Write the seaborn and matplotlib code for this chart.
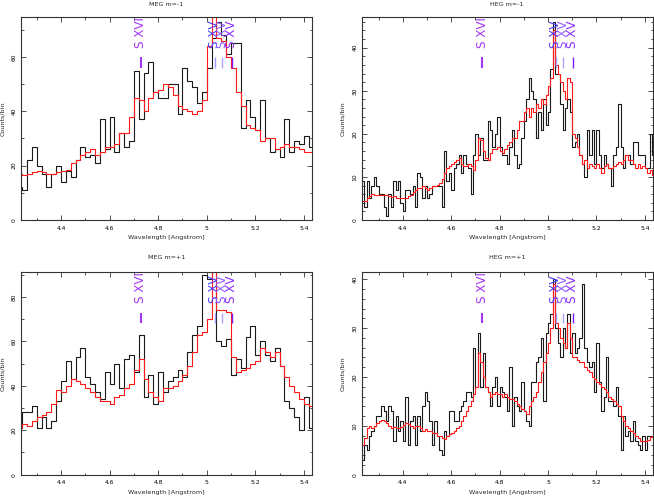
import numpy as np
import pandas as pd
import matplotlib
matplotlib.use("Agg")
import matplotlib.pyplot as plt
from matplotlib.ticker import MultipleLocator, FuncFormatter
import seaborn as sns

# ---------------- data (counts per bin) ----------------
meg_start, meg_step = 4.22, 0.02      # MEG bins: 0.02 A
heg_start, heg_step = 4.23, 0.01      # HEG bins: 0.01 A

meg_m1_data = [12, 11, 22, 27, 20, 17, 12, 17, 20, 14,
               18, 16, 22, 27, 23, 24, 21, 37, 26, 38,
               25, 32, 27, 29, 55, 37, 54, 58, 47, 45,
               45, 50, 50, 39, 56, 51, 49, 43, 47, 56,
               67, 73, 68, 61, 65, 65, 34, 44, 38, 33,
               44, 30, 25, 26, 23, 37, 25, 29, 28, 31,
               27]
meg_m1_model = [17, 16.5, 17, 17.5, 18, 17.5, 17, 17, 17.5, 18,
                18.5, 21, 22, 24, 25, 26, 24, 25, 27, 27,
                28, 32, 32, 38, 45, 44, 40, 45, 47, 48,
                50, 49, 46, 42, 41, 40, 39, 40, 44, 64,
                80, 67, 66, 60, 56, 47, 42, 35, 34, 33,
                29, 30, 30, 26, 27, 28, 27, 27, 26, 25,
                25]

meg_p1_data = [21, 28, 28, 31, 21, 26, 21, 24, 33, 42,
               51, 43, 53, 57, 44, 41, 37, 34, 46, 41,
               50, 39, 52, 54, 46, 63, 35, 45, 32, 46,
               37, 42, 44, 47, 44, 55, 63, 67, 90, 88,
               95, 60, 58, 61, 45, 52, 48, 62, 67, 54,
               60, 54, 51, 57, 49, 33, 30, 26, 20, 35,
               21]
meg_p1_model = [21, 23, 22, 24, 26, 27, 28, 32, 38, 37,
                40, 43, 42, 41, 39, 37, 35, 33, 33, 32,
                35, 36, 39, 41, 47, 52, 43, 37, 35, 33,
                39, 39, 40, 42, 45, 49, 55, 63, 64, 70,
                100, 74, 74, 73, 53, 46, 47, 48, 50, 51,
                57, 55, 53, 55, 49, 44, 40, 37, 34, 32,
                31]

heg_m1_data = [9, 3, 9, 5, 8, 10, 8, 6, 6, 3,
               1, 6, 3, 9, 7, 9, 4, 2, 7, 7,
               6, 8, 3, 11, 10, 5, 8, 5, 6, 8,
               8, 8, 8, 3, 16, 9, 11, 7, 12, 13,
               15, 11, 15, 13, 12, 6, 15, 20, 15, 19,
               14, 14, 23, 21, 17, 20, 24, 17, 15, 15,
               13, 17, 21, 15, 12, 13, 19, 23, 28, 33,
               30, 28, 19, 25, 21, 28, 22, 25, 35, 46,
               34, 34, 27, 21, 26, 28, 25, 17, 18, 20,
               15, 13, 10, 21, 15, 21, 13, 21, 15, 12,
               15, 13, 12, 8, 15, 17, 27, 17, 12, 15,
               15, 13, 18, 18, 15, 15, 15, 12, 12, 20,
               15]
heg_m1_model = [4.5, 4.5, 5, 5.5, 6, 5.8, 5.8, 5.7, 5.8, 5.8,
                5.8, 5.5, 5.3, 5.5, 5.2, 5, 5, 5, 5.2, 5.5,
                5.8, 6.5, 7, 7.5, 7.5, 7.8, 7.5, 7, 7.5, 8,
                8, 8.2, 8.5, 9.5, 11, 12, 12.5, 13, 13.5, 14,
                14.5, 13, 12.5, 12.5, 13, 12.5, 11.5, 14, 19, 18.5,
                16, 14.5, 14, 15.5, 16.5, 16.5, 17, 16, 15.5, 16.5,
                17.5, 18, 19, 19, 21, 23, 23, 25, 26, 24,
                26, 25, 27, 26, 28, 27, 29, 31, 33, 44,
                36, 34, 32, 30, 28, 33, 32, 20, 19, 17,
                15, 13, 14, 12, 13, 12.5, 12, 13, 12, 11,
                12.5, 13, 12, 12, 12.5, 13, 13.5, 13, 14, 15,
                14, 14, 13, 12, 13, 12, 12.5, 12, 11, 11.5,
                10.5]

heg_p1_data = [3, 6, 5, 8, 9, 10, 12, 12, 14, 13,
               11, 14, 13, 7, 12, 9, 11, 7, 16, 6,
               11, 12, 6, 12, 9, 14, 17, 15, 11, 6,
               11, 8, 5, 4, 9, 8, 13, 13, 11, 11,
               13, 14, 15, 17, 17, 16, 26, 18, 29, 18,
               25, 18, 17, 14, 18, 20, 14, 18, 17, 16,
               13, 22, 10, 16, 14, 13, 19, 13, 11, 10,
               19, 19, 23, 24, 28, 15, 29, 31, 33, 40,
               30, 27, 24, 30, 26, 33, 25, 29, 25, 26,
               28, 39, 26, 23, 22, 23, 17, 27, 19, 13,
               16, 24, 15, 15, 14, 18, 12, 5, 12, 8,
               9, 7, 11, 7, 6, 5, 8, 5, 8, 8,
               8]
heg_p1_model = [6, 7.5, 9.5, 10, 9.5, 10, 10.5, 11, 11.2, 11,
                10.5, 10, 9.5, 9.8, 9.5, 9.5, 9.8, 10.2, 10.5, 10.3,
                10, 9.5, 10, 10, 9.5, 9, 9.3, 9, 9, 8.5,
                8.5, 8, 8, 7.5, 7.3, 8, 8.3, 8.5, 9, 9.5,
                10, 11, 12, 13, 14, 15, 16.5, 18, 25, 23,
                20, 18, 17, 16, 16.5, 17, 16.5, 16.5, 16, 16.5,
                16, 15.5, 15.5, 15, 14.5, 14, 13.5, 13, 12.5, 14,
                15, 16, 17, 19, 21, 23, 25, 27, 30, 39,
                31, 30, 28, 27, 26, 31, 28, 24, 24, 23.5,
                23, 23, 22, 21.5, 21, 20, 19.5, 19, 18.5, 18,
                17.5, 17, 16, 15.5, 15, 14.5, 14, 12, 11, 10,
                9.5, 9, 8.5, 8, 7.5, 7, 7, 6.8, 7.2, 7.8,
                8]

panel_titles = ["MEG m=-1", "HEG m=-1", "MEG m=+1", "HEG m=+1"]
x_ticks = [4.4, 4.6, 4.8, 5.0, 5.2, 5.4]

line_wavelengths = [4.729, 5.032, 5.063, 5.102]
line_labels = ["S XVI", "S XV", "S XV", "S XV"]
label_colors = ["#a335f5", "#4a3cff", "#8f5cff", "#8a2cff"]
bar_colors = ["#a335f5", "#9f9cff", "#a8a6ff", "#7a20ff"]

# ---------------- style ----------------
sns.set_style("ticks")
plt.rcParams["font.family"] = ["DejaVu Sans"]

fig = plt.figure(figsize=(6.54, 4.97), dpi=100)
W, H = 654.0, 497.0


def step_frame(start, step, values):
    edges = start + step * np.arange(len(values) + 1)
    return pd.DataFrame({"wavelength": edges,
                         "counts": list(values) + [values[-1]]})


panels = [
    dict(box=(20.7, 16.7, 311.7, 220.0), start=meg_start, step=meg_step,
         data=meg_m1_data, model=meg_m1_model, ylim=74.8, major=20, minor=10,
         xlim=(4.234, 5.432), title=panel_titles[0], pad=7.5),
    dict(box=(361.5, 16.7, 652.5, 220.0), start=heg_start, step=heg_step,
         data=heg_m1_data, model=heg_m1_model, ylim=47.2, major=10, minor=2,
         xlim=(4.229, 5.432), title=panel_titles[1], pad=7.5),
    dict(box=(20.7, 272.0, 311.7, 474.7), start=meg_start, step=meg_step,
         data=meg_p1_data, model=meg_p1_model, ylim=91.2, major=20, minor=10,
         xlim=(4.234, 5.432), title=panel_titles[2], pad=9.5),
    dict(box=(361.5, 272.0, 652.5, 474.7), start=heg_start, step=heg_step,
         data=heg_p1_data, model=heg_p1_model, ylim=41.5, major=10, minor=2,
         xlim=(4.229, 5.432), title=panel_titles[3], pad=9.5),
]

for p in panels:
    x0, y0, x1, y1 = p["box"]
    ax = fig.add_axes([x0 / W, (H - y1) / H, (x1 - x0) / W, (y1 - y0) / H])

    df_data = step_frame(p["start"], p["step"], p["data"])
    df_model = step_frame(p["start"], p["step"], p["model"])
    sns.lineplot(data=df_data, x="wavelength", y="counts", ax=ax,
                 drawstyle="steps-post", color="#1a1a1a", lw=0.8,
                 estimator=None, sort=False)
    sns.lineplot(data=df_model, x="wavelength", y="counts", ax=ax,
                 drawstyle="steps-post", color="#ff1a1a", lw=0.8,
                 estimator=None, sort=False)

    ax.set_xlim(*p["xlim"])
    ax.set_ylim(0, p["ylim"])
    ax.xaxis.set_major_locator(plt.FixedLocator(x_ticks))
    ax.xaxis.set_minor_locator(MultipleLocator(0.1))
    ax.yaxis.set_major_locator(MultipleLocator(p["major"]))
    ax.yaxis.set_minor_locator(MultipleLocator(p["minor"]))
    fmt = FuncFormatter(lambda v, pos: f"{v:g}")
    ax.xaxis.set_major_formatter(fmt)
    ax.yaxis.set_major_formatter(fmt)

    ax.tick_params(which="both", direction="in", top=True, right=True,
                   width=0.6, colors="#333333", labelcolor="black")
    ax.tick_params(which="major", length=3.5)
    ax.tick_params(which="minor", length=1.8)
    ax.tick_params(axis="x", labelsize=4.3, pad=4)
    ax.tick_params(axis="y", labelsize=4.3, pad=3, labelrotation=90)
    for lab in ax.get_yticklabels():
        lab.set_va("center")

    for s in ax.spines.values():
        s.set_linewidth(0.8)
        s.set_color("#333333")

    ax.set_xlabel("Wavelength [Angstrom]", fontsize=4.6)
    ax.set_ylabel("Counts/bin", fontsize=4.6)
    ax.xaxis.set_label_coords(0.5, -0.075)
    ax.yaxis.set_label_coords(-0.055, 0.5)
    ax.set_title(p["title"], fontsize=4.6, pad=p["pad"])

    trans = ax.get_xaxis_transform()
    for wl, lab, tcol, bcol in zip(line_wavelengths, line_labels,
                                   label_colors, bar_colors):
        ax.plot([wl, wl], [0.75, 0.80], transform=trans, color=bcol,
                lw=1.5 if lab == "S XVI" else 1.0, solid_capstyle="butt")
        t = ax.text(wl, 0.845, lab, transform=trans, rotation=90,
                    ha="center", va="bottom", color=tcol, fontsize=8.6)
        t.set_clip_on(True)

fig.savefig("out.png", dpi=100)
